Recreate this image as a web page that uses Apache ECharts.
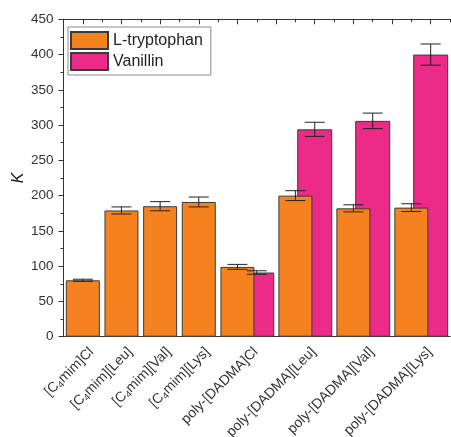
<!DOCTYPE html>
<html>
<head>
<meta charset="utf-8">
<script src="https://cdn.jsdelivr.net/npm/echarts@6/dist/echarts.min.js"></script>
<style>html,body{margin:0;padding:0;background:#fff;}#c{width:451px;height:437px;}</style>
</head>
<body>
<div id="c"></div>
<script>
// ---- data ----
var categories = ['[C{s|4}mim]Cl', '[C{s|4}mim][Leu]', '[C{s|4}mim][Val]', '[C{s|4}mim][Lys]',
  'poly-[DADMA]Cl', 'poly-[DADMA][Leu]', 'poly-[DADMA][Val]', 'poly-[DADMA][Lys]'];
var labelPos = [1, 3, 5, 7, 9.5, 12.5, 15.5, 18.5];      // x position of each category label (group centre)
var trpPos = [1, 3, 5, 7, 9, 12, 15, 18];                 // x position of L-tryptophan bars
var trpValues = [80, 179, 185, 191, 99, 200, 182, 183];
var trpErr = [1.5, 5, 6.5, 7, 3.5, 7, 5, 5.5];
var vanPos = [10, 13, 16, 19];                            // x position of Vanillin bars
var vanValues = [91, 294, 306, 400];
var vanErr = [2.5, 10, 11, 15];
var yMin = 0, yMax = 450, yStep = 50;
var xMin = 0, xMax = 20;

var FONT = 'Liberation Sans, Arial, sans-serif';
var INK = '#333';
var LABEL_SHIFT = 0.45;   // rotated labels hang slightly right of their tick

var trpData = trpPos.map(function (x, i) { return [x, trpValues[i]]; });
var vanData = vanPos.map(function (x, i) { return [x, vanValues[i]]; });
var errData = trpPos.map(function (x, i) { return [x, trpValues[i], trpErr[i]]; })
  .concat(vanPos.map(function (x, i) { return [x, vanValues[i], vanErr[i]]; }));

var majorTop = [], minorTop = [];
for (var k = 1; k < xMax; k += 2) majorTop.push(k);
for (var k2 = 2; k2 <= xMax; k2 += 2) minorTop.push(k2);

var hidden = { show: false };
var chart = echarts.init(document.getElementById('c'), null, { renderer: 'canvas' });
chart.setOption({
  animation: false,
  backgroundColor: '#fff',
  grid: { left: 63.5, right: 1, top: 19.3, bottom: 100.3, outerBoundsMode: 'none', containLabel: false },
  legend: {
    left: 68, top: 27, orient: 'vertical',
    itemWidth: 37, itemHeight: 17, itemGap: 2,
    padding: [4, 8, 4, 2],
    borderColor: '#8a8a8a', borderWidth: 1, backgroundColor: '#fff',
    icon: 'rect',
    textStyle: { fontFamily: FONT, fontSize: 16, color: '#222' },
    data: ['L-tryptophan', 'Vanillin']
  },
  xAxis: [
    { type: 'value', position: 'bottom', min: xMin, max: xMax,
      axisLine: { show: true, lineStyle: { color: INK, width: 1 } },
      axisTick: hidden, axisLabel: hidden, splitLine: hidden },
    { type: 'value', position: 'bottom', min: xMin, max: xMax,
      axisLine: hidden, axisTick: hidden, axisLabel: hidden, splitLine: hidden },
    { type: 'value', position: 'bottom', min: xMin - LABEL_SHIFT, max: xMax - LABEL_SHIFT,
      axisLine: hidden, axisTick: hidden, splitLine: hidden,
      axisLabel: {
        show: true, customValues: labelPos, rotate: 45, margin: 13,
        fontFamily: FONT, fontSize: 14, color: INK,
        formatter: function (v) {
          for (var i = 0; i < labelPos.length; i++) if (Math.abs(labelPos[i] - v) < 1e-6) return categories[i];
          return '';
        },
        rich: { s: { fontFamily: FONT, fontSize: 9.5, color: INK, padding: [7, 0, 0, 0] } }
      } },
    { type: 'value', position: 'top', min: xMin, max: xMax,
      axisLine: { show: true, lineStyle: { color: INK, width: 1 } },
      axisTick: { show: true, inside: true, length: 5, customValues: majorTop, lineStyle: { color: INK } },
      axisLabel: hidden, splitLine: hidden },
    { type: 'value', position: 'top', min: xMin, max: xMax,
      axisLine: hidden,
      axisTick: { show: true, inside: true, length: 3, customValues: minorTop, lineStyle: { color: INK } },
      axisLabel: hidden, splitLine: hidden }
  ],
  yAxis: [
    { type: 'value', position: 'left', min: yMin, max: yMax, interval: yStep,
      name: 'K', nameLocation: 'middle', nameGap: 37, nameRotate: 90, nameMoveOverlap: false,
      nameTextStyle: { fontFamily: FONT, fontSize: 16, fontStyle: 'italic', color: '#222' },
      axisLine: { show: true, lineStyle: { color: INK, width: 1 } },
      axisTick: { show: true, inside: false, length: 5, lineStyle: { color: INK } },
      minorTick: { show: true, splitNumber: 2, length: 3, lineStyle: { color: INK } },
      axisLabel: { fontFamily: FONT, fontSize: 13.5, color: INK, margin: 10 },
      splitLine: hidden },
    { type: 'value', position: 'right', min: yMin, max: yMax, interval: yStep,
      axisLine: { show: true, lineStyle: { color: INK, width: 1 } },
      axisTick: { show: true, inside: true, length: 4, lineStyle: { color: INK } },
      minorTick: { show: true, splitNumber: 2, length: 2, lineStyle: { color: INK } },
      axisLabel: hidden, splitLine: hidden }
  ],
  series: [
    { name: 'L-tryptophan', type: 'bar', xAxisIndex: 0, yAxisIndex: 0, z: 3,
      barWidth: 34, data: trpData,
      itemStyle: { color: '#F5821F', borderColor: '#3b3b3b', borderWidth: 1 } },
    { name: 'Vanillin', type: 'bar', xAxisIndex: 1, yAxisIndex: 0, z: 2,
      barWidth: 35, data: vanData,
      itemStyle: { color: '#EC2A87', borderColor: '#3b3b3b', borderWidth: 1 } },
    { type: 'custom', xAxisIndex: 0, yAxisIndex: 0, z: 5, data: errData,
      renderItem: function (params, api) {
        var x = api.value(0), y = api.value(1), e = api.value(2);
        var hi = api.coord([x, y + e]), lo = api.coord([x, y - e]);
        var hw = 10;
        var st = { stroke: '#222', lineWidth: 1 };
        return { type: 'group', children: [
          { type: 'line', shape: { x1: hi[0], y1: hi[1], x2: lo[0], y2: lo[1] }, style: st },
          { type: 'line', shape: { x1: hi[0] - hw, y1: hi[1], x2: hi[0] + hw, y2: hi[1] }, style: st },
          { type: 'line', shape: { x1: lo[0] - hw, y1: lo[1], x2: lo[0] + hw, y2: lo[1] }, style: st }
        ] };
      } }
  ]
});
</script>
</body>
</html>
